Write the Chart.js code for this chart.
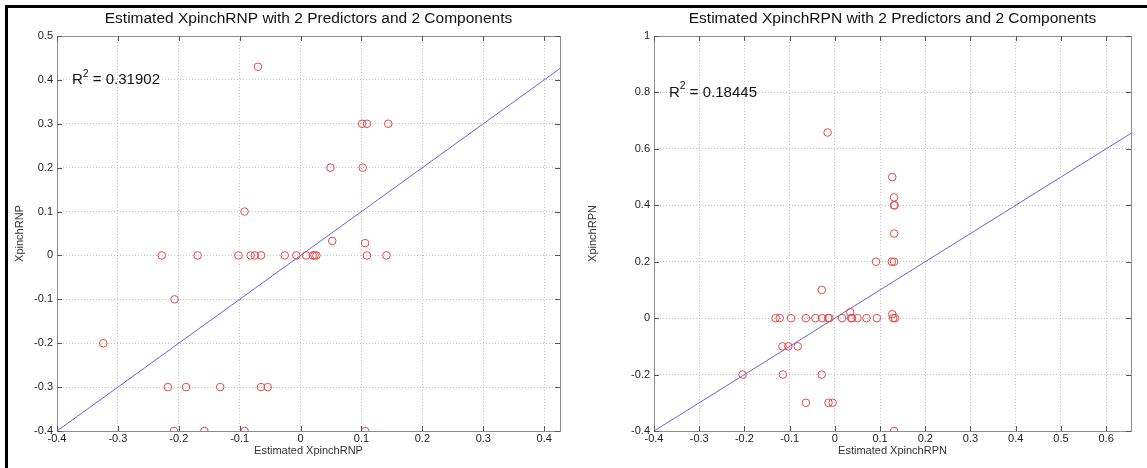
<!DOCTYPE html>
<html>
<head>
<meta charset="utf-8">
<script src="https://cdn.jsdelivr.net/npm/chart.js@4.4.1/dist/chart.umd.min.js"></script>
<style>
  body { margin: 0; background: #fff; width: 1147px; height: 468px; overflow: hidden; position: relative; }
  .frameTop { position: absolute; left: 5px; top: 5px; width: 1142px; height: 3px; background: #000; }
  .frameLeft { position: absolute; left: 5px; top: 5px; width: 3px; height: 463px; background: #000; }
  canvas { position: absolute; top: 0; }
</style>
</head>
<body>
<div class="frameTop"></div>
<div class="frameLeft"></div>
<canvas id="chart-rnp" width="560" height="468" style="left:8px"></canvas>
<canvas id="chart-rpn" width="577" height="468" style="left:570px"></canvas>
<script>
// 左: XpinchRNP
var rnpEstimated = [-0.070, 0.101, 0.109, 0.144, 0.049, 0.102, -0.092, 0.052, 0.106,
    -0.228, -0.169, -0.102, -0.082, -0.075, -0.065, -0.026, -0.007, 0.009, 0.020, 0.023, 0.026, 0.109, 0.141,
    -0.207, -0.324, -0.218, -0.188, -0.132, -0.065, -0.054, -0.208, -0.158, -0.092, 0.106];
var rnpActual = [0.43, 0.3, 0.3, 0.3, 0.2, 0.2, 0.1, 0.033, 0.028,
    0, 0, 0, 0, 0, 0, 0, 0, 0, 0, 0, 0, 0, 0,
    -0.1, -0.2, -0.3, -0.3, -0.3, -0.3, -0.3, -0.4, -0.4, -0.4, -0.4];
var rnpFit = [-0.4, 0.426];
var rnpXTicks = [-0.4, -0.3, -0.2, -0.1, 0, 0.1, 0.2, 0.3, 0.4];
var rnpYTicks = [-0.4, -0.3, -0.2, -0.1, 0, 0.1, 0.2, 0.3, 0.4, 0.5];

// 右: XpinchRPN
var rpnEstimated = [-0.016, 0.127, 0.131, 0.131, 0.132, 0.131, 0.091, 0.126, 0.131, -0.029, 0.034, 0.127,
    -0.131, -0.122, -0.097, -0.064, -0.043, -0.028, -0.015, -0.012, 0.016, 0.036, 0.038, 0.050, 0.070, 0.093, 0.129, 0.133,
    -0.116, -0.103, -0.082, -0.204, -0.115, -0.029, -0.064, -0.014, -0.005, 0.131];
var rpnActual = [0.658, 0.5, 0.428, 0.4, 0.4, 0.3, 0.2, 0.2, 0.2, 0.1, 0.021, 0.014,
    0, 0, 0, 0, 0, 0, 0, 0, 0, 0, 0, 0, 0, 0, 0, 0,
    -0.1, -0.1, -0.1, -0.2, -0.2, -0.2, -0.3, -0.3, -0.3, -0.4];
var rpnFit = [-0.4, 0.655];
var rpnXTicks = [-0.4, -0.3, -0.2, -0.1, 0, 0.1, 0.2, 0.3, 0.4, 0.5, 0.6];
var rpnYTicks = [-0.4, -0.2, 0, 0.2, 0.4, 0.6, 0.8, 1];

var FONT = "'Liberation Sans', Arial, sans-serif";

// 枠と内向きの目盛り, タイトル, R^2 の表示
var boxPlugin = {
    id: 'box',
    afterDraw: function (chart, args, opts) {
        var ctx = chart.ctx;
        var a = chart.chartArea;
        var xs = chart.scales.x, ys = chart.scales.y;
        ctx.save();
        ctx.strokeStyle = '#8c8c8c';
        ctx.lineWidth = 1;
        ctx.strokeRect(a.left + 0.5, a.top + 0.5, a.right - a.left, a.bottom - a.top);
        ctx.strokeStyle = '#555';
        ctx.beginPath();
        xs.ticks.forEach(function (t) {
            var px = Math.round(xs.getPixelForValue(t.value)) + 0.5;
            ctx.moveTo(px, a.bottom); ctx.lineTo(px, a.bottom - 5);
            ctx.moveTo(px, a.top); ctx.lineTo(px, a.top + 5);
        });
        ys.ticks.forEach(function (t) {
            var py = Math.round(ys.getPixelForValue(t.value)) + 0.5;
            ctx.moveTo(a.left, py); ctx.lineTo(a.left + 5, py);
            ctx.moveTo(a.right, py); ctx.lineTo(a.right - 5, py);
        });
        ctx.stroke();

        // タイトル (プロット領域の中央)
        ctx.fillStyle = '#111';
        ctx.textBaseline = 'middle';
        ctx.textAlign = 'center';
        ctx.font = '15.5px ' + FONT;
        ctx.fillText(opts.title, (a.left + a.right) / 2, 19);

        // R^2
        var tx = a.left + 15;
        var ty = ys.getPixelForValue(opts.y);
        ctx.textAlign = 'left';
        ctx.font = '15px ' + FONT;
        ctx.fillText('R', tx, ty);
        var w = ctx.measureText('R').width;
        ctx.font = '10.5px ' + FONT;
        ctx.fillText('2', tx + w, ty - 6);
        var w2 = ctx.measureText('2').width;
        ctx.font = '15px ' + FONT;
        ctx.fillText(' = ' + opts.text, tx + w + w2, ty);
        ctx.restore();
    }
};

function fmt(v) {
    return Number(v.toFixed(2)).toString();
}

function makeChart(id, title, xLabel, yLabel, est, act, fit, xTicks, yTicks, yMin, yMax, yWidth, yTitlePad, padRight, r2, r2y) {
    var ctx = document.getElementById(id).getContext('2d');
    var points = est.map(function (x, i) { return { x: x, y: act[i] }; });
    var line = fit.map(function (v) { return { x: v, y: v }; });

    return new Chart(ctx, {
        type: 'scatter',
        data: {
            datasets: [{
                data: points,
                showLine: false,
                pointStyle: 'circle',
                pointRadius: 3.8,
                borderColor: '#e24a4a',
                backgroundColor: 'rgba(0,0,0,0)',
                borderWidth: 1
            }, {
                type: 'line',
                data: line,
                borderColor: '#6464e6',
                borderWidth: 1,
                pointRadius: 0,
                fill: false
            }]
        },
        options: {
            responsive: false,
            animation: false,
            layout: { padding: { left: 0, right: padRight, top: 36, bottom: 0 } },
            plugins: {
                legend: { display: false },
                tooltip: { enabled: false },
                title: { display: false },
                box: { title: title, y: r2y, text: r2 }
            },
            scales: {
                x: {
                    type: 'linear',
                    min: fit[0],
                    max: fit[1],
                    afterBuildTicks: function (s) { s.ticks = xTicks.map(function (v) { return { value: v }; }); },
                    afterFit: function (s) { s.height = 37; },
                    grid: { color: '#c4c4c4', drawTicks: false },
                    border: { display: false, dash: [1, 2] },
                    ticks: {
                        color: '#222', padding: 1, maxRotation: 0, autoSkip: false,
                        font: { family: FONT, size: 11 },
                        callback: function (v) { return fmt(v); }
                    },
                    title: {
                        display: true, text: xLabel, color: '#333',
                        font: { family: FONT, size: 11 },
                        padding: { top: 0, bottom: 10 }
                    }
                },
                y: {
                    type: 'linear',
                    min: yMin,
                    max: yMax,
                    afterBuildTicks: function (s) { s.ticks = yTicks.map(function (v) { return { value: v }; }); },
                    afterFit: function (s) { s.width = yWidth; },
                    grid: { color: '#c4c4c4', drawTicks: false },
                    border: { display: false, dash: [1, 2] },
                    ticks: {
                        color: '#222', padding: 4, autoSkip: false,
                        font: { family: FONT, size: 11 },
                        callback: function (v) { return fmt(v); }
                    },
                    title: {
                        display: true, text: yLabel, color: '#333',
                        font: { family: FONT, size: 11 },
                        padding: { top: yTitlePad, bottom: 0 }
                    }
                }
            }
        },
        plugins: [boxPlugin]
    });
}

makeChart('chart-rnp', 'Estimated XpinchRNP with 2 Predictors and 2 Components',
    'Estimated XpinchRNP', 'XpinchRNP', rnpEstimated, rnpActual, rnpFit,
    rnpXTicks, rnpYTicks, -0.4, 0.5, 49, 5, 8, '0.31902', 0.4);

makeChart('chart-rpn', 'Estimated XpinchRPN with 2 Predictors and 2 Components',
    'Estimated XpinchRPN', 'XpinchRPN', rpnEstimated, rpnActual, rpnFit,
    rpnXTicks, rpnYTicks, -0.4, 1, 84, 16, 16, '0.18445', 0.8);
</script>
</body>
</html>
